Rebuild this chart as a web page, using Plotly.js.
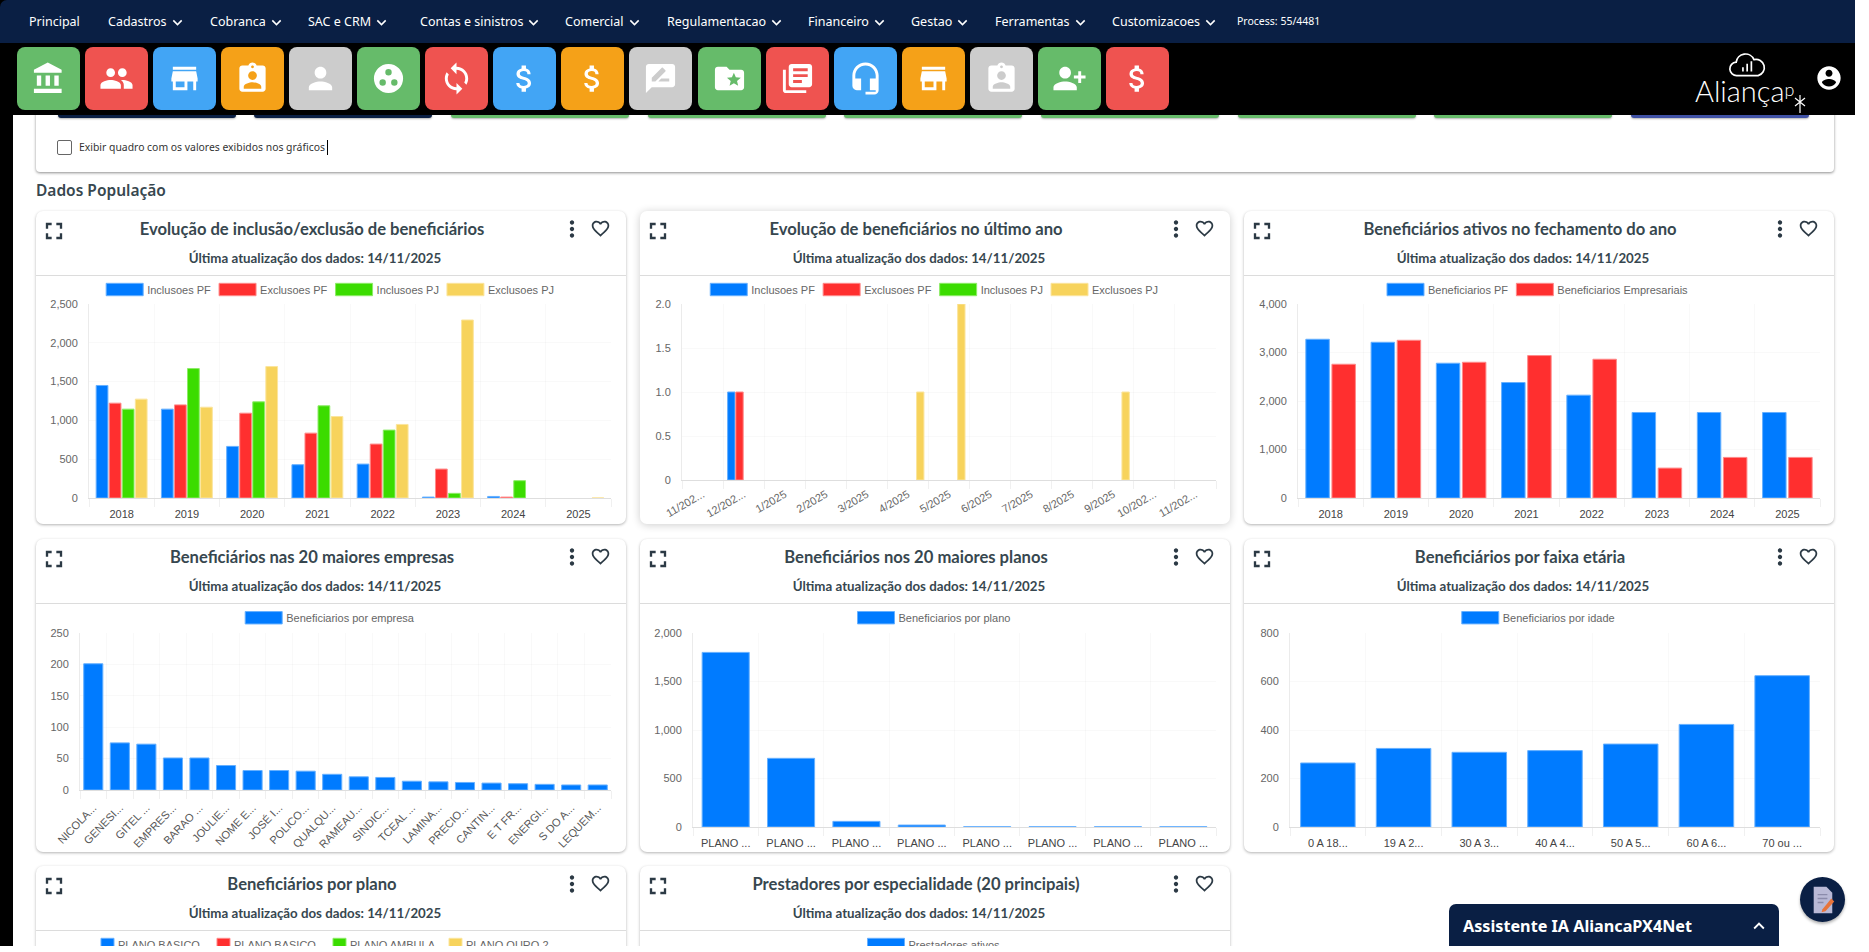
<!DOCTYPE html>
<html lang="pt-BR"><head><meta charset="utf-8"><title>Dados População</title>
<script src="https://cdn.plot.ly/plotly-3.0.1.min.js"></script>
<style>
html,body{margin:0;padding:0;width:1869px;height:952px;overflow:hidden;background:#fff;font-family:"Noto Sans",sans-serif;color:#37474f}
.abs{position:absolute}
#leftbar{position:absolute;left:0;top:115px;width:13px;height:837px;background:#000}
#top{position:absolute;left:0;top:0;width:1855px;height:115px;background:#000;z-index:5}
#nav{position:absolute;left:0;top:0;width:1855px;height:43px;background:#0a1f44;border-top-left-radius:7px}
.nv{position:absolute;top:0;line-height:43px;color:#fff;font-size:12.5px;white-space:nowrap}
.nv svg{width:19px;height:19px;vertical-align:-6px;fill:#fff;margin-left:1px}
.btn{position:absolute;top:47px;width:63px;height:63px;border-radius:8px;display:flex;align-items:center;justify-content:center}
.btn svg{width:35px;height:35px;fill:#fff}
.stub{position:absolute;top:111px;height:7px;width:178px;border-radius:0 0 3px 3px;box-shadow:0 1px 2px rgba(0,0,0,.3)}
#topcard{position:absolute;left:36px;top:100px;width:1798px;height:72px;border-radius:0 0 4px 4px;box-shadow:0 1px 3px rgba(0,0,0,.45);background:#fff}
#chk{position:absolute;left:57px;top:140px;width:13px;height:13px;border:1.3px solid #666;border-radius:2px}
#chktxt{position:absolute;left:79px;top:140px;font-size:10.4px;color:#333;line-height:15px;border-right:1px solid #000;padding-right:2px}
#sec{position:absolute;left:36px;top:179px;font-size:15.5px;font-weight:600;color:#37474f;line-height:22px}
.card{position:absolute;width:590px;height:313px;background:#fff;border-radius:7px;box-shadow:0 1px 3px rgba(0,0,0,.3)}
.card.hov{box-shadow:0 1px 9px rgba(0,0,0,.2)}
.card .t{position:absolute;left:0;right:38px;top:6px;text-align:center;font:700 16.6px/24px Lato,sans-serif;color:#37474f}
.card .s{position:absolute;left:0;right:32px;top:38px;text-align:center;font:700 13.3px/18px Lato,sans-serif;color:#37474f}
.card .d{position:absolute;left:0;right:0;top:64px;height:1px;background:#dcdcdc}
.card svg.i{position:absolute;fill:#2c3a45}
.plot{position:absolute;left:0;top:65px;width:590px}
#ia{position:absolute;left:1449px;top:904px;width:330px;height:42px;background:#0a1f44;border-radius:7px 7px 0 0;color:#fff;font-weight:700;font-size:16.2px;line-height:44px;z-index:6}
#fab{position:absolute;left:1800px;top:877px;width:45px;height:45px;border-radius:50%;background:#0a1f44;z-index:6;box-shadow:0 2px 3px rgba(0,0,0,.3)}
#bot{position:absolute;left:0;top:946px;width:1869px;height:6px;background:#fff;z-index:10}
</style></head><body>
<div id="leftbar"></div>
<div id="topcard"></div>
<div id="chk"></div><div id="chktxt">Exibir quadro com os valores exibidos nos gráficos</div>
<div id="sec">Dados População</div>
<div id="cards"></div>
<div id="top"><div id="nav"></div>
<div class="abs" style="left:1695px;top:72px;color:#fff;font:300 29px Lato,sans-serif;line-height:34px">Aliança<span style="font-size:18px;vertical-align:6px">p</span></div>
<svg class="abs" style="left:1793px;top:94px" width="14" height="20" viewBox="0 0 14 20" fill="none" stroke="#fff" stroke-width="1.2"><path d="M7 1v18M2 4l10 8M12 4L2 12"/></svg>
<svg class="abs" style="left:1727px;top:52px" width="42" height="27" viewBox="0 0 46 32" fill="none" stroke="#fff" stroke-width="2"><path d="M10 28a8 8 0 0 1-1-16 11 11 0 0 1 21-3 8 8 0 0 1 5 19z"/><path d="M17 23v-5M22 23v-9M27 23v-12"/></svg>
<svg class="abs" style="left:1815px;top:64px;fill:#fff" width="28" height="28" viewBox="0 0 24 24"><path d="M12 2C6.48 2 2 6.48 2 12s4.48 10 10 10 10-4.48 10-10S17.52 2 12 2zm0 3c1.66 0 3 1.34 3 3s-1.34 3-3 3-3-1.34-3-3 1.34-3 3-3zm0 14.2c-2.5 0-4.71-1.28-6-3.22.03-1.99 4-3.08 6-3.08 1.99 0 5.97 1.09 6 3.08-1.29 1.94-3.5 3.22-6 3.22z"/></svg>
</div>
<div id="ia"><span style="position:absolute;left:14px">Assistente IA AliancaPX4Net</span>
<svg class="abs" style="left:299px;top:11px;fill:#fff" width="22" height="22" viewBox="0 0 24 24"><path d="M7.41 15.41L12 10.83l4.59 4.58L18 14l-6-6-6 6z"/></svg></div>
<div id="fab"><svg width="45" height="45" viewBox="0 0 46 46"><path d="M14 10h13l6 6v21H14z" fill="#b9b9d6"/><path d="M18 18h10M18 22h10M18 26h6" stroke="#8b8bab" stroke-width="1.5"/><path d="M23 33l9-11 3 3-9 10-4 1z" fill="#e8743b"/></svg></div>
<div id="bot"></div>
<script>
// ---------- text ----------
const navLabels = ["Principal","Cadastros","Cobranca","SAC e CRM","Contas e sinistros","Comercial","Regulamentacao","Financeiro","Gestao","Ferramentas","Customizacoes"];
const updatedText = "Última atualização dos dados: 14/11/2025";
const years = ["2018","2019","2020","2021","2022","2023","2024","2025"];
const months = ["11/202...","12/202...","1/2025","2/2025","3/2025","4/2025","5/2025","6/2025","7/2025","8/2025","9/2025","10/202...","11/202..."];
const companies = ["NICOLA...","GENESI...","GITEL ...","EMPRES...","BARAO ...","JOULIE...","NOME E...","JOSÉ I...","POLICO...","QUALQU...","RAMEAU...","SINDIC...","TCEAL ...","LAMINA...","PRECIO...","CANTIN...","E T FR...","ENERGI...","S DO A...","LEQUEM..."];
const plans = ["PLANO ...","PLANO ...","PLANO ...","PLANO ...","PLANO ...","PLANO ...","PLANO ...","PLANO ..."];
const ages = ["0 A 18...","19 A 2...","30 A 3...","40 A 4...","50 A 5...","60 A 6...","70 ou ..."];
// ---------- values ----------
const inclPF = [1450,1145,665,429,437,12,20,0];
const exclPF = [1222,1200,1093,836,695,373,12,0];
const inclPJ = [1145,1668,1239,1188,875,60,223,0];
const exclPJ = [1274,1170,1694,1050,948,2294,0,1];
const monthInclPF = [0,1,0,0,0,0,0,0,0,0,0,0,0];
const monthExclPF = [0,1,0,0,0,0,0,0,0,0,0,0,0];
const monthInclPJ = [0,0,0,0,0,0,0,0,0,0,0,0,0];
const monthExclPJ = [0,0,0,0,0,1,2,0,0,0,1,0,0];
const activePF = [3273,3211,2779,2381,2120,1763,1763,1763];
const activeEmp = [2758,3252,2799,2937,2861,617,837,837];
const byCompany = [201,75,73,51,51,39,31,31,30,25,21,20,14,13,12,11,10,9,8,8];
const byPlan = [1800,708,58,20,3,3,3,3];
const byAge = [264,324,308,315,342,423,624];
const planSeriesNames = ["PLANO BASICO","PLANO BASICO ","PLANO AMBULA","PLANO OURO 2"];
const planSeriesValues = [1800,708,58,20];
const providerLabels = ["Prestadores ativos"];
const providerValues = [1];

const BLUE="#007bff",RED="#ff2f2f",GREEN="#3bdc00",YEL="#f7d35c";
const BLUEL="#66b0ff",REDL="#ff8a8a",GREENL="#8cec66",YELL="#fbe59d";

// nav
const CHEV='<svg viewBox="0 0 24 24"><path d="M7.41 8.59L12 13.17l4.59-4.58L18 10l-6 6-6-6 1.41-1.41z"/></svg>';
const navX=[29,108,210,308,420,565,667,808,911,995,1112];
const nav=document.getElementById('nav');
navLabels.forEach((t,i)=>{const d=document.createElement('div');d.className='nv';d.style.left=navX[i]+'px';d.innerHTML=t+(i?CHEV:'');nav.appendChild(d);});
{const d=document.createElement('div');d.className='nv';d.style.left='1237px';d.style.fontSize='10.5px';d.textContent='Process: 55/4481';nav.appendChild(d);}

// icon buttons
const P={
bank:'M4 10v7h3v-7H4zm6 0v7h3v-7h-3zM2 22h19v-3H2v3zm14-12v7h3v-7h-3zm-4.5-9L2 6v2h19V6l-9.5-5z',
people:'M16 11c1.66 0 2.99-1.34 2.99-3S17.66 5 16 5c-1.66 0-3 1.34-3 3s1.34 3 3 3zm-8 0c1.66 0 2.99-1.34 2.99-3S9.66 5 8 5C6.34 5 5 6.34 5 8s1.34 3 3 3zm0 2c-2.33 0-7 1.17-7 3.5V19h14v-2.5c0-2.33-4.67-3.5-7-3.5zm8 0c-.29 0-.62.02-.97.05 1.16.84 1.97 1.97 1.97 3.45V19h6v-2.5c0-2.33-4.67-3.5-7-3.5z',
store:'M20 4H4v2h16V4zm1 10v-2l-1-5H4l-1 5v2h1v6h10v-6h4v6h2v-6h1zm-9 4H6v-4h6v4z',
badge:'M19 3h-4.18C14.4 1.84 13.3 1 12 1c-1.3 0-2.4.84-2.82 2H5c-1.1 0-2 .9-2 2v14c0 1.1.9 2 2 2h14c1.1 0 2-.9 2-2V5c0-1.1-.9-2-2-2zm-7 0c.55 0 1 .45 1 1s-.45 1-1 1-1-.45-1-1 .45-1 1-1zm0 4c1.66 0 3 1.34 3 3s-1.34 3-3 3-3-1.34-3-3 1.34-3 3-3zm6 12H6v-1.4c0-2 4-3.1 6-3.1s6 1.1 6 3.1V19z',
person:'M12 12c2.21 0 4-1.79 4-4s-1.79-4-4-4-4 1.79-4 4 1.79 4 4 4zm0 2c-2.67 0-8 1.34-8 4v2h16v-2c0-2.66-5.33-4-8-4z',
dots:'M12 2a10 10 0 1 0 0 20 10 10 0 0 0 0-20zm0 3.5a2.2 2.2 0 1 1 0 4.4 2.2 2.2 0 0 1 0-4.4zM8 12.5a2.2 2.2 0 1 1 0 4.4 2.2 2.2 0 0 1 0-4.4zm8 0a2.2 2.2 0 1 1 0 4.4 2.2 2.2 0 0 1 0-4.4z',
sync:'M12 4V1L8 5l4 4V6c3.31 0 6 2.69 6 6 0 1.01-.25 1.97-.7 2.8l1.46 1.46C19.54 15.03 20 13.57 20 12c0-4.42-3.58-8-8-8zm0 14c-3.31 0-6-2.69-6-6 0-1.01.25-1.97.7-2.8L5.24 7.74C4.46 8.97 4 10.43 4 12c0 4.42 3.58 8 8 8v3l4-4-4-4v3z',
money:'M11.8 10.9c-2.27-.59-3-1.2-3-2.15 0-1.09 1.01-1.85 2.7-1.85 1.78 0 2.44.85 2.5 2.1h2.21c-.07-1.72-1.12-3.3-3.21-3.81V3h-3v2.16c-1.94.42-3.5 1.68-3.5 3.61 0 2.31 1.91 3.46 4.7 4.13 2.5.6 3 1.48 3 2.41 0 .69-.49 1.79-2.7 1.79-2.06 0-2.87-.92-2.98-2.1h-2.2c.12 2.19 1.76 3.42 3.68 3.83V21h3v-2.15c1.95-.37 3.5-1.5 3.5-3.55 0-2.84-2.43-3.81-4.7-4.4z',
review:'M20 2H4c-1.1 0-1.99.9-1.99 2L2 22l4-4h14c1.1 0 2-.9 2-2V4c0-1.1-.9-2-2-2zM6 14v-2.47l6.88-6.88c.2-.2.51-.2.71 0l1.77 1.77c.2.2.2.51 0 .71L8.47 14H6zm12 0h-7.5l2-2H18v2z',
folder:'M20 6h-8l-2-2H4c-1.1 0-1.99.9-1.99 2L2 18c0 1.1.9 2 2 2h16c1.1 0 2-.9 2-2V8c0-1.1-.9-2-2-2zm-2.06 11L15 15.28 12.06 17l.78-3.33-2.59-2.24 3.41-.29L15 8l1.34 3.14 3.41.29-2.59 2.24.78 3.33z',
books:'M4 6H2v14c0 1.1.9 2 2 2h14v-2H4V6zm16-4H8c-1.1 0-2 .9-2 2v12c0 1.1.9 2 2 2h12c1.1 0 2-.9 2-2V4c0-1.1-.9-2-2-2zm-1 9H9V9h10v2zm-4 4H9v-2h6v2zm4-8H9V5h10v2z',
headset:'M12 1c-4.97 0-9 4.03-9 9v7c0 1.66 1.34 3 3 3h3v-8H5v-2c0-3.87 3.13-7 7-7s7 3.13 7 7v2h-4v8h4v1h-7v2h6c1.66 0 3-1.34 3-3V10c0-4.97-4.03-9-9-9z',
add:'M9 12c2.21 0 4-1.79 4-4s-1.79-4-4-4-4 1.79-4 4 1.79 4 4 4zm9-2V7h2v3h3v2h-3v3h-2v-3h-3v-2h3zm-9 4c-2.67 0-8 1.34-8 4v2h16v-2c0-2.66-5.33-4-8-4z'};
const G="#66bb6a",R="#ef5350",B="#42a5f5",O="#f5a118",C="#cccccc";
const btns=[[P.bank,G],[P.people,R],[P.store,B],[P.badge,O],[P.person,C],[P.dots,G],[P.sync,R],[P.money,B],[P.money,O],[P.review,C],[P.folder,G],[P.books,R],[P.headset,B],[P.store,O],[P.badge,C],[P.add,G],[P.money,R]];
const top_=document.getElementById('top');
btns.forEach((b,i)=>{const d=document.createElement('div');d.className='btn';d.style.left=(17+i*68.05)+'px';d.style.background=b[1];d.innerHTML='<svg viewBox="0 0 24 24"><path d="'+b[0]+'"/></svg>';top_.appendChild(d);});
const stubC=["#0a1f44","#0a1f44",G,G,G,G,G,G,"#3f51a5"];
stubC.forEach((c,i)=>{const d=document.createElement('div');d.className='stub';d.style.left=(57.5+i*196.7)+'px';d.style.background=c;document.body.appendChild(d);});

// cards
const ICON={full:'M7 14H5v5h5v-2H7v-3zm-2-4h2V7h3V5H5v5zm12 7h-3v2h5v-5h-2v3zM14 5v2h3v3h2V5h-5z',
more:'M12 8c1.1 0 2-.9 2-2s-.9-2-2-2-2 .9-2 2 .9 2 2 2zm0 2c-1.1 0-2 .9-2 2s.9 2 2 2 2-.9 2-2-.9-2-2-2zm0 6c-1.1 0-2 .9-2 2s.9 2 2 2 2-.9 2-2-.9-2-2-2z',
heart:'M16.5 3c-1.74 0-3.41.81-4.5 2.09C10.91 3.81 9.24 3 7.5 3 4.42 3 2 5.42 2 8.5c0 3.78 3.4 6.86 8.55 11.54L12 21.35l1.45-1.32C18.6 15.36 22 12.28 22 8.5 22 5.42 19.58 3 16.5 3zm-4.4 15.55l-.1.1-.1-.1C7.14 14.24 4 11.39 4 8.5 4 6.5 5.5 5 7.5 5c1.54 0 3.04.99 3.57 2.36h1.87C13.46 5.99 14.96 5 16.5 5c2 0 3.5 1.5 3.5 3.5 0 2.89-3.14 5.74-7.9 10.05z'};
function ic(p,x,y,s){return '<svg class="i" style="left:'+x+'px;top:'+y+'px" width="'+s+'" height="'+s+'" viewBox="0 0 24 24"><path d="'+p+'"/></svg>';}
function bar(name,y,x,c,l){return {type:'bar',name:name,x:x,y:y.map(v=>v===0?null:v),marker:{color:c,line:{color:l,width:1}},hoverinfo:'none'};}
function catLabels(a){return a.map((t,i)=>i+':'+t);} // unique categories for repeated labels

const CW=590;
function card(cfg){
  const el=document.createElement('div');el.className='card'+(cfg.hov?' hov':'');
  el.style.left=cfg.left+'px';el.style.top=cfg.top+'px';
  el.innerHTML='<div class="t">'+cfg.title+'</div><div class="s">'+updatedText+'</div><div class="d"></div>'+
   ic(ICON.full,4,6,28)+ic(ICON.more,523,5,26)+ic(ICON.heart,554,7,21)+'<div class="plot"></div>';
  document.getElementById('cards').appendChild(el);
  const pd=el.querySelector('.plot');
  const H=cfg.h||248;pd.style.height=H+'px';
  const topY=cfg.top+65, m={l:cfg.px0-cfg.left,r:cfg.left+CW-cfg.px1,t:cfg.py1-topY,b:topY+H-cfg.py0,pad:0,autoexpand:false};
  const plotH=H-m.t-m.b, plotW=CW-m.l-m.r;
  const legCY=cfg.top+78.5;
  const leg={orientation:'h',xanchor:cfg.legLeft?'left':'center',x:((cfg.legLeft||(cfg.left+CW/2))-cfg.px0)/plotW,y:1+(cfg.py1-legCY)/plotH,yanchor:'middle',itemwidth:34,
    font:{family:'Liberation Sans',size:11,color:'#666'},traceorder:'normal',itemclick:false,itemdoubleclick:false,bgcolor:'rgba(0,0,0,0)'};
  if(cfg.entry){leg.entrywidth=cfg.entry;leg.entrywidthmode='pixels';}
  const layout={width:CW,height:H,margin:m,paper_bgcolor:'rgba(0,0,0,0)',plot_bgcolor:'rgba(0,0,0,0)',
    bargap:.2,bargroupgap:.1,barmode:'group',showlegend:true,legend:leg,
    font:{family:'Liberation Sans'},
    xaxis:{type:'category',tickmode:'array',tickvals:cfg.tickvals,ticktext:cfg.ticktext,tickson:'boundaries',ticks:'outside',ticklen:8,tickcolor:'rgba(0,0,0,.06)',ticklabelstandoff:cfg.stand==null?6:cfg.stand,gridcolor:'rgba(0,0,0,.025)',showgrid:true,showline:true,linecolor:'rgba(0,0,0,.13)',zeroline:false,tickangle:cfg.angle||0,automargin:false,
      tickfont:{family:'Liberation Sans',size:11,color:cfg.xc||'#444'},fixedrange:true},
    yaxis:{range:[0,cfg.max],tickmode:'array',tickvals:cfg.yt,ticktext:cfg.ytt,ticks:'outside',ticklen:8,tickcolor:'rgba(0,0,0,0)',gridcolor:'rgba(0,0,0,.025)',showline:true,linecolor:'rgba(0,0,0,.08)',zeroline:false,automargin:false,tickfont:{family:'Liberation Sans',size:11,color:'#666'},fixedrange:true}};
  Plotly.newPlot(pd,cfg.traces,layout,{displayModeBar:false,staticPlot:true,responsive:false}).then(()=>{
    // chart-style wide legend swatches; legend text keeps its full width
    const d=cfg.swd||'M18,6.2H-19V-6.2H18Z';
    pd.querySelectorAll('.legendpoints path').forEach(p=>p.setAttribute('d',d));
    pd.querySelectorAll('.legend [clip-path]').forEach(n=>n.removeAttribute('clip-path'));
  });
}
const Y2500=[0,500,1000,1500,2000,2500],Y2500T=["0","500","1,000","1,500","2,000","2,500"];
const Xw=[36,640,1244];
const rowT=[211,538.5,866];

card({left:Xw[0],top:rowT[0],title:"Evolução de inclusão/exclusão de beneficiários",px0:89,px1:610.6,py1:304,py0:498.3,max:2500,yt:Y2500,ytt:Y2500T,tickvals:years,ticktext:years,
 traces:[bar("Inclusoes PF",inclPF,years,BLUE,BLUEL),bar("Exclusoes PF",exclPF,years,RED,REDL),bar("Inclusoes PJ",inclPJ,years,GREEN,GREENL),bar("Exclusoes PJ",exclPJ,years,YEL,YELL)]});
const mk=catLabels(months);
card({left:Xw[1],top:rowT[0],hov:true,title:"Evolução de beneficiários no último ano",px0:681.5,px1:1216,py1:304,py0:480.3,max:2,yt:[0,.5,1,1.5,2],ytt:["0","0.5","1.0","1.5","2.0"],tickvals:mk,ticktext:months,angle:-30,xc:'#666',stand:3,
 traces:[bar("Inclusoes PF",monthInclPF,mk,BLUE,BLUEL),bar("Exclusoes PF",monthExclPF,mk,RED,REDL),bar("Inclusoes PJ",monthInclPJ,mk,GREEN,GREENL),bar("Exclusoes PJ",monthExclPJ,mk,YEL,YELL)]});
card({left:Xw[2],top:rowT[0],title:"Beneficiários ativos no fechamento do ano",px0:1298,px1:1820,py1:304,py0:498.3,max:4000,yt:[0,1000,2000,3000,4000],ytt:["0","1,000","2,000","3,000","4,000"],tickvals:years,ticktext:years,
 traces:[bar("Beneficiarios PF",activePF,years,BLUE,BLUEL),bar("Beneficiarios Empresariais",activeEmp,years,RED,REDL)]});
const ck=catLabels(companies);
card({left:Xw[0],top:rowT[1],title:"Beneficiários nas 20 maiores empresas",px0:80,px1:610.6,py1:632.3,py0:790,max:250,yt:[0,50,100,150,200,250],ytt:["0","50","100","150","200","250"],tickvals:ck,ticktext:companies,angle:-46,xc:'#555',
 traces:[bar("Beneficiarios por empresa",byCompany,ck,BLUE,BLUEL)]});
const pk=catLabels(plans);
card({left:Xw[1],top:rowT[1],title:"Beneficiários nos 20 maiores planos",px0:693,px1:1216,py1:632.3,py0:826.3,max:2000,yt:[0,500,1000,1500,2000],ytt:["0","500","1,000","1,500","2,000"],tickvals:pk,ticktext:plans,
 traces:[bar("Beneficiarios por plano",byPlan,pk,BLUE,BLUEL)]});
card({left:Xw[2],top:rowT[1],title:"Beneficiários por faixa etária",px0:1289.5,px1:1820,py1:632.3,py0:826.3,max:800,yt:[0,200,400,600,800],ytt:["0","200","400","600","800"],tickvals:ages,ticktext:ages,
 traces:[bar("Beneficiarios por idade",byAge,ages,BLUE,BLUEL)]});
const one=["PLANO"];
card({left:Xw[0],top:rowT[2],h:320,title:"Beneficiários por plano",px0:80,px1:610.6,py1:960,py0:1154,max:2000,yt:[0,1000,2000],ytt:["0","1,000","2,000"],tickvals:one,ticktext:one,legLeft:74,entry:67,swd:'M18,6.2H5V-6.2H18Z',
 traces:planSeriesNames.map((n,i)=>bar(n,[planSeriesValues[i]],one,[BLUE,RED,GREEN,YEL][i],[BLUEL,REDL,GREENL,YELL][i]))});
card({left:Xw[1],top:rowT[2],h:320,title:"Prestadores por especialidade (20 principais)",px0:690,px1:1216,py1:960,py0:1154,max:2,yt:[0,1,2],ytt:["0","1","2"],tickvals:providerLabels,ticktext:[""],
 traces:[bar("Prestadores ativos",providerValues,providerLabels,BLUE,BLUEL)]});
</script>
</body></html>
